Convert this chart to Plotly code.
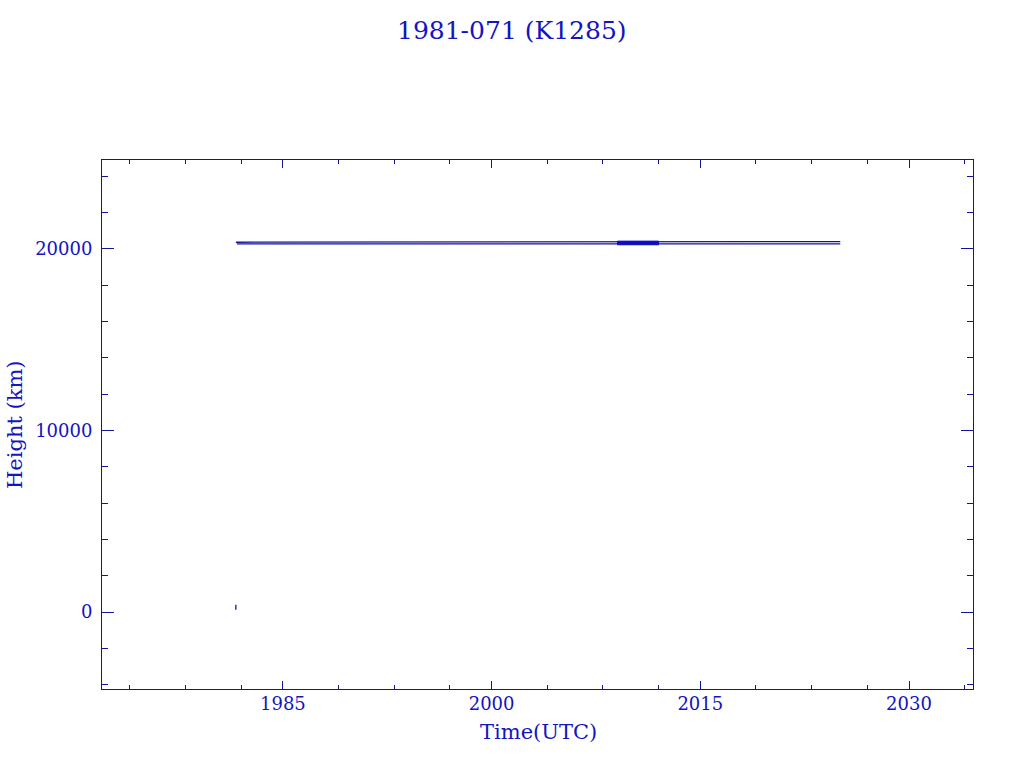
import plotly.graph_objects as go

# ---- data ----
launch_years = [1981.62, 1981.62]
launch_heights = [130, 400]

apogee_years = [1981.62, 2003.5, 2003.5, 2025.06]
apogee_heights = [20370, 20370, 20405, 20405]

perigee_years = [1981.7, 2025.06]
perigee_heights = [20275, 20275]

band_years = [2009.05, 2012.0, 2012.0, 2009.05, 2009.05]
band_heights = [20230, 20230, 20430, 20430, 20230]

x_major = [1985, 2000, 2015, 2030]
x_minor = [1974, 1978, 1982, 1989, 1993, 1997, 2004, 2008, 2012, 2019, 2023, 2027, 2034]
y_major = [0, 10000, 20000]

TITLE = "1981-071 (K1285)"
XLABEL = "Time(UTC)"
YLABEL = "Height (km)"

LINE = "#14149a"
TEXT = "#1414c0"
BAND = "#0a0ad2"
FONT = "DejaVu Serif"

L, R, T, B = 102, 51, 160, 79
W, H = 1024, 768
PW, PH = W - L - R, H - T - B

fig = go.Figure()
fig.add_trace(go.Scatter(x=band_years, y=band_heights, mode="lines", fill="toself",
                         fillcolor=BAND, line=dict(color=BAND, width=1), hoverinfo="skip"))
fig.add_trace(go.Scatter(x=apogee_years, y=apogee_heights, mode="lines",
                         line=dict(color=LINE, width=1.3)))
fig.add_trace(go.Scatter(x=perigee_years, y=perigee_heights, mode="lines",
                         line=dict(color=LINE, width=1.3)))
fig.add_trace(go.Scatter(x=launch_years, y=launch_heights, mode="lines",
                         line=dict(color=LINE, width=1.3)))

fig.update_layout(
    width=W, height=H,
    margin=dict(l=L, r=R, t=T, b=B, autoexpand=False),
    paper_bgcolor="white", plot_bgcolor="white",
    showlegend=False,
    font=dict(family=FONT, color=TEXT, size=18),
    annotations=[
        dict(text=TITLE, xref="paper", yref="paper", x=(512 - L) / PW, y=(H - B - 30) / PH,
             xanchor="center", yanchor="middle", showarrow=False,
             font=dict(family=FONT, size=25, color=TEXT)),
        dict(text=XLABEL, xref="paper", yref="paper", x=(538 - L) / PW, y=-(732 - (H - B)) / PH,
             xanchor="center", yanchor="middle", showarrow=False,
             font=dict(family=FONT, size=21, color=TEXT)),
        dict(text=YLABEL, xref="paper", yref="paper", x=-(L - 15) / PW, y=((H - B) - 425) / PH,
             xanchor="center", yanchor="middle", showarrow=False, textangle=-90,
             font=dict(family=FONT, size=21, color=TEXT)),
    ],
)

fig.update_xaxes(
    range=[1972.0, 2034.6], tickmode="array", tickvals=x_major,
    ticktext=[str(v) for v in x_major], automargin=False,
    ticks="inside", ticklen=8, tickwidth=1, tickcolor=LINE,
    showline=True, linecolor=LINE, linewidth=1, mirror="ticks",
    showgrid=False, zeroline=False,
    tickfont=dict(family=FONT, size=18, color=TEXT),
    ticklabelstandoff=-2,
    minor=dict(tickmode="array", tickvals=x_minor, ticks="inside", ticklen=4,
               tickcolor=LINE, tickwidth=1, showgrid=False),
)
fig.update_yaxes(
    range=[-4240, 24900], tickmode="array", tickvals=y_major,
    ticktext=[str(v) for v in y_major], automargin=False,
    ticks="inside", ticklen=12, tickwidth=1, tickcolor=LINE,
    showline=True, linecolor=LINE, linewidth=1, mirror="ticks",
    showgrid=False, zeroline=False,
    tickfont=dict(family=FONT, size=18, color=TEXT),
    ticklabelstandoff=5,
    minor=dict(dtick=2000, tick0=0, ticks="inside", ticklen=6,
               tickcolor=LINE, tickwidth=1, showgrid=False),
)

fig.write_html("out.html", config={"displayModeBar": False},
               post_script="document.body.style.margin='0';")
